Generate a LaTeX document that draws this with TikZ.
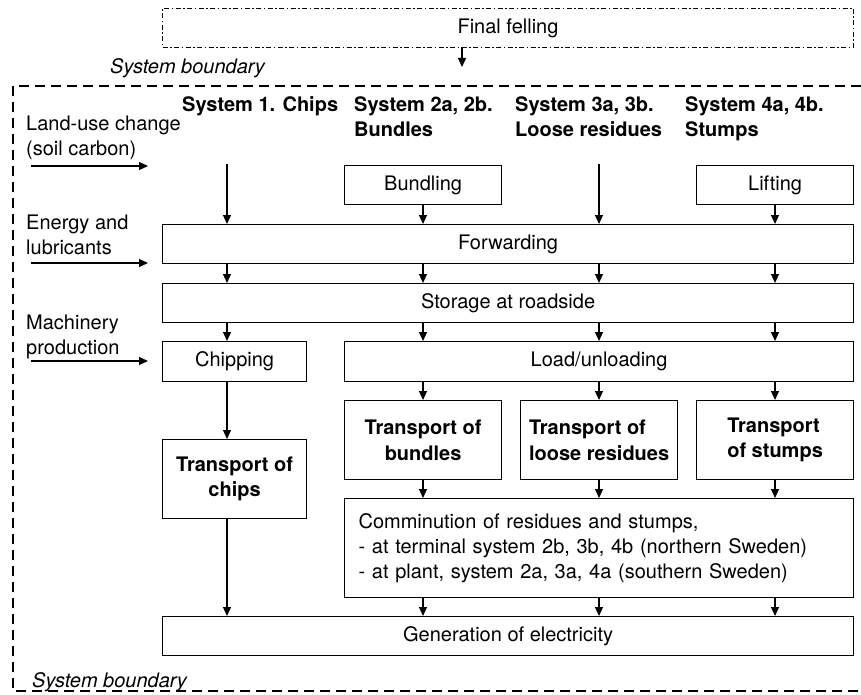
\documentclass[tikz,border=0pt]{standalone}
\usepackage{fontspec}
\setmainfont{TeX Gyre Heros}
\usetikzlibrary{arrows.meta}
\begin{document}
\begin{tikzpicture}[x=1pt,y=-1pt,
  every node/.style={font=\fontsize{20}{25.5}\selectfont},
  box/.style={draw, line width=1.2pt, anchor=north west, inner sep=0pt, align=center},
  bbox/.style={box, font=\fontsize{20}{25.5}\selectfont\bfseries},
  arr/.style={line width=1.2pt, -{Triangle[length=9pt,width=8pt]}},
  lbl/.style={anchor=north west, align=left, inner sep=0pt, font=\fontsize{20}{25}\selectfont},
  hdr/.style={anchor=north west, align=left, inner sep=0pt, font=\fontsize{20}{25}\selectfont\bfseries},
  sb/.style={anchor=west, inner sep=0pt, font=\fontsize{20}{24}\selectfont\itshape},
]
\useasboundingbox (0,0) rectangle (861,695);
\begin{scope}
\clip (0,0) rectangle (861,695);
\draw[line width=2.2pt, dash pattern=on 10pt off 6pt] (13,86) rectangle (880,691);
\end{scope}

% top box
\node[box, line width=1pt, dash pattern=on 5pt off 2.5pt on 1.5pt off 2.5pt,
      minimum width=691pt, minimum height=39pt] (fell) at (162,8) {Final felling};
\coordinate (fellA) at (462,47);
\coordinate (fellB) at (462,67);
\draw[arr] (fellA) -- (fellB);
\node[sb] (sbtop) at (110,68) {System boundary};
\node[sb] (sbbot) at (32,682) {System boundary};

% headers
\node[hdr] (h1) at (182,96) {System 1. Chips};
\node[hdr] (h2) at (354,96) {System 2a, 2b.\\Bundles};
\node[hdr] (h3) at (515,96) {System 3a, 3b.\\Loose residues};
\node[hdr] (h4) at (685,96) {System 4a, 4b.\\Stumps};

% left labels
\node[lbl] (lu) at (26,116) {Land-use change\\(soil carbon)};
\node[lbl] (en) at (26,215) {Energy and\\lubricants};
\node[lbl] (ma) at (26,315) {Machinery\\production};
\coordinate (luA) at (31,166); \coordinate (luB) at (148,166);
\coordinate (enA) at (31,263); \coordinate (enB) at (148,263);
\coordinate (maA) at (31,361); \coordinate (maB) at (148,361);
\draw[arr] (luA) -- (luB);
\draw[arr] (enA) -- (enB);
\draw[arr] (maA) -- (maB);

% columns
\coordinate (k1) at (227,0);
\coordinate (k2) at (423,0);
\coordinate (k3) at (599,0);
\coordinate (k4) at (775,0);

% boxes
\node[box, minimum width=157pt, minimum height=39pt] (bund) at (344,165) {Bundling};
\node[box, minimum width=157pt, minimum height=39pt] (lift) at (696,165) {Lifting};
\node[box, minimum width=691pt, minimum height=39pt] (fwd) at (162,224) {Forwarding};
\node[box, minimum width=691pt, minimum height=39pt] (stor) at (162,283) {Storage at roadside};
\node[box, minimum width=144pt, minimum height=40pt] (chip) at (162,341) {Chipping};
\node[box, minimum width=509pt, minimum height=40pt] (load) at (344,341) {Load/unloading};
\node[bbox, minimum width=157pt, minimum height=79pt] (tbund) at (344,400) {Transport of\\bundles};
\node[bbox, align=left, minimum width=157pt, minimum height=79pt] (tloose) at (520,400) {Transport of\\loose residues};
\node[bbox, align=left, minimum width=157pt, minimum height=79pt] (tstump) at (696,400) {Transport\\of stumps};
\node[bbox, minimum width=144pt, minimum height=79pt] (tchip) at (162,439) {Transport of\\chips};
\node[box, align=left, text width=481pt, inner xsep=14pt, minimum width=509pt, minimum height=99pt,
      font=\fontsize{20}{25}\selectfont] (comm) at (344,498)
  {Comminution of residues and stumps,\\- at terminal system 2b, 3b, 4b (northern Sweden)\\- at plant, system 2a, 3a, 4a (southern Sweden)};
\node[box, minimum width=691pt, minimum height=39pt] (gen) at (162,616) {Generation of electricity};

% top column inputs
\coordinate (c1top) at (227,164);
\coordinate (c3top) at (599,164);
\draw[arr] (c1top) -- (fwd.north -| k1);
\draw[arr] (c3top) -- (fwd.north -| k3);
\draw[arr] (bund.south -| k2) -- (fwd.north -| k2);
\draw[arr] (lift.south -| k4) -- (fwd.north -| k4);

% forwarding -> storage
\foreach \k in {k1,k2,k3,k4} \draw[arr] (fwd.south -| \k) -- (stor.north -| \k);
% storage -> chipping / load
\draw[arr] (stor.south -| k1) -- (chip.north -| k1);
\foreach \k in {k2,k3,k4} \draw[arr] (stor.south -| \k) -- (load.north -| \k);
% chipping -> transport chips
\draw[arr] (chip.south -| k1) -- (tchip.north -| k1);
% load -> transports
\draw[arr] (load.south -| k2) -- (tbund.north -| k2);
\draw[arr] (load.south -| k3) -- (tloose.north -| k3);
\draw[arr] (load.south -| k4) -- (tstump.north -| k4);
% transports -> comminution
\draw[arr] (tbund.south -| k2) -- (comm.north -| k2);
\draw[arr] (tloose.south -| k3) -- (comm.north -| k3);
\draw[arr] (tstump.south -| k4) -- (comm.north -| k4);
% -> generation
\draw[arr] (tchip.south -| k1) -- (gen.north -| k1);
\foreach \k in {k2,k3,k4} \draw[arr] (comm.south -| \k) -- (gen.north -| \k);
\end{tikzpicture}
\end{document}
